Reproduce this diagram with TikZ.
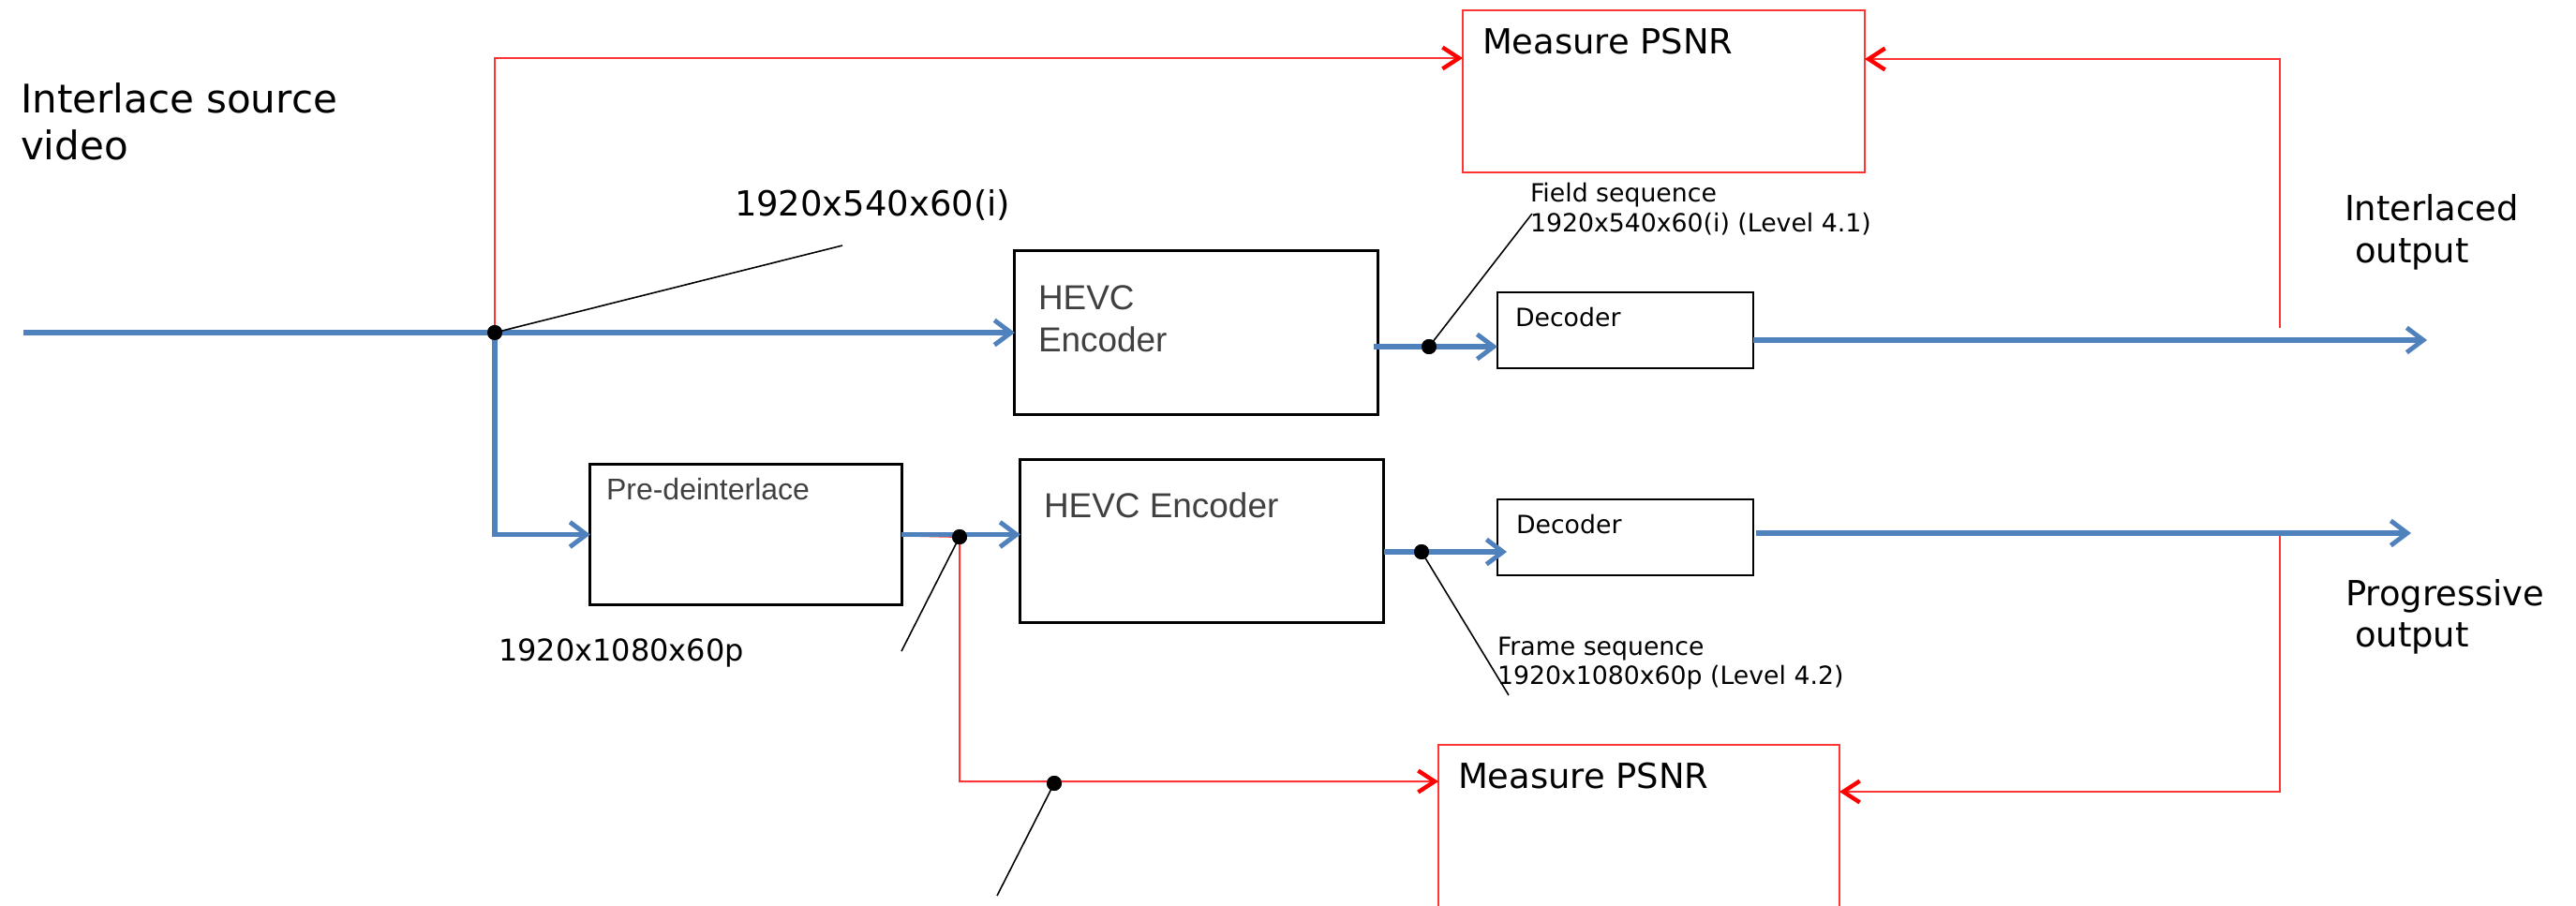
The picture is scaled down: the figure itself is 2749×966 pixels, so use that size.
\documentclass[tikz,border=0pt]{standalone}
\usepackage{fontspec}
\setmainfont{DejaVu Sans}
\newfontfamily\boxfont{Liberation Sans}
\usetikzlibrary{arrows.meta}
\definecolor{flowblue}{HTML}{4F81BD}
\definecolor{pred}{HTML}{FF3535}
\definecolor{labgray}{HTML}{404040}
\begin{document}
\begin{tikzpicture}[x=0.01cm,y=-0.01cm,
  blueflow/.style={draw=flowblue, line width=1.6pt, -{Straight Barb[length=5pt,width=7.5pt,line width=1.4pt]}},
  redflow/.style={draw=pred, line width=0.57pt, -{Straight Barb[length=5pt,width=6.5pt,line width=1.25pt,color=red]}},
  annot/.style={draw=black, line width=0.45pt},
  blackbox/.style={draw=black, line width=0.85pt, inner sep=0pt, outer sep=0pt},
  thinbox/.style={draw=black, line width=0.55pt, inner sep=0pt, outer sep=0pt},
  redbox/.style={draw=pred, line width=0.55pt, inner sep=0pt, outer sep=0pt},
  dot/.style={circle, fill=black, inner sep=0pt, minimum size=0.16cm},
  txt/.style={anchor=base west, inner sep=0pt, outer sep=0pt},
  big/.style={font=\fontsize{11.95pt}{14pt}\selectfont},
  mid/.style={font=\fontsize{10.5pt}{12.6pt}\selectfont},
  smallish/.style={font=\fontsize{9.1pt}{11pt}\selectfont},
  small/.style={font=\fontsize{7.6pt}{9pt}\selectfont},
  gmid/.style={font=\boxfont\fontsize{10.5pt}{12.6pt}\selectfont, text=labgray},
  gsmall/.style={font=\boxfont\fontsize{9.1pt}{11pt}\selectfont, text=labgray}
]
\clip (0,0) rectangle (2749,966);
\fill[white] (0,0) rectangle (2749,966);

% boxes
\node[redbox, minimum width=4.29cm, minimum height=1.73cm] (psnrTop) at (1775.5,97.5) {};
\node[blackbox, minimum width=3.87cm, minimum height=1.74cm] (enc1) at (1276.5,355) {};
\node[thinbox, minimum width=2.73cm, minimum height=0.81cm] (dec1) at (1734.5,352.5) {};
\node[blackbox, minimum width=3.32cm, minimum height=1.49cm] (pre) at (796,570.5) {};
\node[blackbox, minimum width=3.87cm, minimum height=1.73cm] (enc2) at (1282.5,577.5) {};
\node[thinbox, minimum width=2.73cm, minimum height=0.81cm] (dec2) at (1734.5,573.5) {};
\node[redbox, minimum width=4.28cm, minimum height=3.05cm] (psnrBot) at (1749,947.5) {};

% box labels
\node[txt, mid] (tPsnrTop) at (1582,57) {Measure PSNR};
\node[txt, gmid] (tEnc1a) at (1108,330) {HEVC};
\node[txt, gmid] (tEnc1b) at (1108,375) {Encoder};
\node[txt, small] (tDec1) at (1617,348) {Decoder};
\node[txt, gsmall] (tPre) at (647,533) {Pre-deinterlace};
\node[txt, gmid] (tEnc2) at (1114,552) {HEVC Encoder};
\node[txt, small] (tDec2) at (1618,569) {Decoder};
\node[txt, mid] (tPsnrBot) at (1556,841) {Measure PSNR};

% free texts
\node[txt, big] (src1) at (22,120) {Interlace source};
\node[txt, big] (src2) at (22,170) {video};
\node[txt, mid] (res1) at (784,230) {1920x540x60(i)};
\node[txt, small] (fs1) at (1633,215) {Field sequence};
\node[txt, small] (fs2) at (1633,247) {1920x540x60(i) (Level 4.1)};
\node[txt, mid] (io1) at (2502,235) {Interlaced};
\node[txt, mid] (io2) at (2513,280) {output};
\node[txt, mid] (po1) at (2503,646) {Progressive};
\node[txt, mid] (po2) at (2513,690) {output};
\node[txt, smallish] (res2) at (532,705) {1920x1080x60p};
\node[txt, small] (frs1) at (1598,699) {Frame sequence};
\node[txt, small] (frs2) at (1598,730) {1920x1080x60p (Level 4.2)};

% coordinates
\coordinate (inS) at (25,355);
\coordinate (e1o) at (1466,370);
\coordinate (d1i) at (1598,370);
\coordinate (d1o) at (1871,363);
\coordinate (out1) at (2590,363);
\coordinate (e2o) at (1477,589);
\coordinate (d2i) at (1608,589);
\coordinate (d2o) at (1874,569);
\coordinate (out2) at (2573,569);
\coordinate (ptIn) at (1561,62);
\coordinate (ptOut) at (1990,63);
\coordinate (rt) at (2433,350);
\coordinate (rb) at (2433,571);
\coordinate (pbOut) at (1963,845);
\coordinate (pbIn) at (1535,834);
\coordinate (r2s) at (982,572);
\coordinate (a1) at (899,262);
\coordinate (a2) at (1635,228);
\coordinate (a3) at (962,695);
\coordinate (a4) at (1610,742);
\coordinate (a5) at (1064,956);

% dots (nodes)
\node[dot] (j1) at (528,355) {};
\node[dot] (dA) at (1525,370) {};
\node[dot] (j2) at (1024,573) {};
\node[dot] (dB) at (1517,589) {};
\node[dot] (dC) at (1125,836) {};

% red connectors
\draw[redflow] (j1.center) |- (ptIn);
\draw[redflow] (rt) |- (ptOut);
\draw[redflow] (rb) |- (pbOut);
\draw[redflow] (r2s) -- (j2.center) |- (pbIn);

% blue connectors
\draw[blueflow] (inS) -- (enc1.west);
\draw[blueflow] (j1.center) |- (pre.west);
\draw[blueflow] (pre.east) -- (pre.east -| enc2.west);
\draw[blueflow] (e1o) -- (d1i);
\draw[blueflow] (d1o) -- (out1);
\draw[blueflow] (e2o) -- (d2i);
\draw[blueflow] (d2o) -- (out2);

% redraw dots on top
\fill (j1) circle[radius=0.08cm];
\fill (dA) circle[radius=0.08cm];
\fill (j2) circle[radius=0.08cm];
\fill (dB) circle[radius=0.08cm];
\fill (dC) circle[radius=0.08cm];

% annotation lines
\draw[annot] (j1.center) -- (a1);
\draw[annot] (dA.center) -- (a2);
\draw[annot] (j2.center) -- (a3);
\draw[annot] (dB.center) -- (a4);
\draw[annot] (dC.center) -- (a5);
\end{tikzpicture}
\end{document}
